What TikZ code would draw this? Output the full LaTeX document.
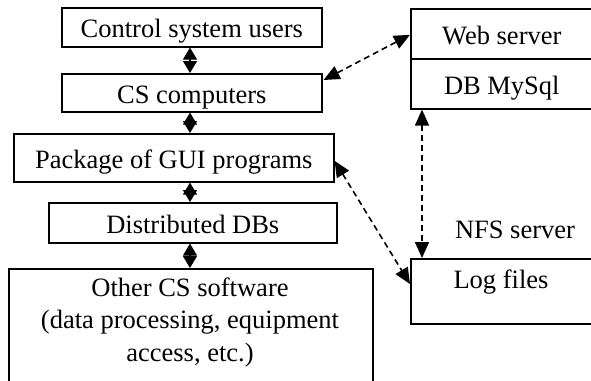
\documentclass[tikz,border=0pt]{standalone}
\usepackage{fontspec}
\setmainfont{Liberation Serif}
\usetikzlibrary{arrows.meta,calc}
\begin{document}
\begin{tikzpicture}[x=1pt,y=-1pt,
  box/.style={draw,line width=1.6pt,inner sep=0pt,anchor=north west,text height=21pt,text depth=0pt,font=\fontsize{26.5}{32}\selectfont},
  txt/.style={inner sep=0pt,font=\fontsize{26.5}{32.5}\selectfont,align=center},
  solidarr/.style={line width=1.2pt,{Triangle[length=12pt,width=14pt]}-{Triangle[length=12pt,width=14pt]}},
  dasharr/.style={line width=1.6pt,dash pattern=on 6pt off 4pt,{Triangle[length=16pt,width=14pt]}-{Triangle[length=16pt,width=14pt]}}]
\useasboundingbox (0,0) rectangle (591,380);
\clip (0,0) rectangle (591,380);
\coordinate (mx) at (190,0);
% left column
\node[box,minimum width=260pt,minimum height=39pt] (A) at (61,7) {Control system users};
\node[box,minimum width=260pt,minimum height=38pt] (B) at (61,73) {CS computers};
\node[box,minimum width=320pt,minimum height=48pt] (C) at (13,133) {Package of GUI programs};
\node[box,minimum width=288pt,minimum height=40pt] (D) at (48,202) {Distributed DBs};
\node[box,minimum width=364pt,minimum height=130pt] (E) at (8,268) {};
\node[txt] (Et) at (190,322) {Other CS software\\(data processing, equipment\\access, etc.)};
% right column
\node[box,minimum width=182pt,minimum height=50pt] (F1) at (410,8) {Web server};
\node[box,minimum width=182pt,minimum height=50pt] (F2) at (410,58) {DB MySql};
\node[txt,anchor=base] (nfs) at (515,238) {NFS server};
\node[box,minimum width=182pt,minimum height=65pt] (G) at (410,258) {};
\node[txt,anchor=base] (Gt) at (501,288) {Log files};
% solid connectors
\draw[solidarr] (A.south -| mx) -- (B.north -| mx);
\draw[solidarr] (B.south -| mx) -- (C.north -| mx);
\draw[solidarr] (C.south -| mx) -- (D.north -| mx);
\draw[solidarr] (D.south -| mx) -- (E.north -| mx);
% dashed connectors
\draw[dasharr] ($(B.north east)+(1,7)$) -- ($(F1.west)+(0,1)$);
\draw[dasharr] ($(C.east)+(0,3)$) -- ($(G.north west)+(0,26)$);
\draw[dasharr] ($(F2.south west)+(12,0)$) -- ($(G.north west)+(12,0)$);
\end{tikzpicture}
\end{document}
